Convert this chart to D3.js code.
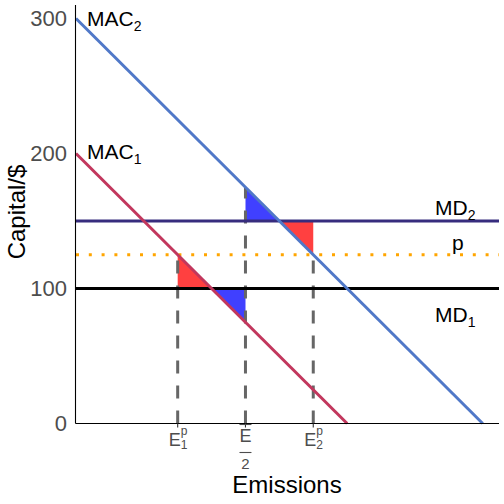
<!DOCTYPE html>
<html><head><meta charset="utf-8">
<script src="https://cdn.jsdelivr.net/npm/d3@7"></script>
<style>body{margin:0;background:#fff}svg{display:block;font-family:"Liberation Sans",Arial,sans-serif}</style>
</head><body>
<svg id="c" width="504" height="504"></svg>
<script>
// ---- data ----
const yTicks = [0, 100, 200, 300];
const macNames = ["MAC1", "MAC2"];
const macIntercepts = [200, 300];          // MAC = intercept - E
const mdNames = ["MD1", "MD2"];
const mdLevels = [100, 150];
const priceLevel = 125;
const xTickValues = [75, 125, 175];
const xTickLabels = ["E1p", "Ebar/2", "E2p"];
const dashTops = [125, 175, 125];
const redTriangles = [
  [[75,125],[75,100],[100,100]],
  [[150,150],[175,150],[175,125]]
];
const blueTriangles = [
  [[100,100],[125,100],[125,75]],
  [[125,175],[125,150],[150,150]]
];

// ---- scales ----
const svg = d3.select("#c");
const x = d3.scaleLinear().domain([0, 312]).range([76, 499]);
const y = d3.scaleLinear().domain([0, 310]).range([423.5, 5]);
const poly = d3.line().x(d => x(d[0])).y(d => y(d[1]));

// fills
svg.selectAll(".red").data(redTriangles).join("path")
  .attr("d", d => poly(d) + "Z").attr("fill", "#ff0000").attr("fill-opacity", 0.75);
svg.selectAll(".blue").data(blueTriangles).join("path")
  .attr("d", d => poly(d) + "Z").attr("fill", "#0000ff").attr("fill-opacity", 0.75);

// dashed verticals
svg.selectAll(".dash").data(xTickValues).join("line")
  .attr("x1", d => x(d)).attr("x2", d => x(d))
  .attr("y1", y(0)).attr("y2", (d, i) => y(dashTops[i]))
  .attr("stroke", "#666").attr("stroke-width", 3).attr("stroke-dasharray", "13,12");

// price line
svg.append("line").attr("x1", x(0)).attr("x2", x(312))
  .attr("y1", y(priceLevel)).attr("y2", y(priceLevel))
  .attr("stroke", "#ffa500").attr("stroke-width", 3).attr("stroke-dasharray", "3,9.8");

// MD lines
const mdColors = ["#000000", "#372c7e"];
svg.selectAll(".md").data(mdLevels).join("line")
  .attr("x1", x(0)).attr("x2", x(312))
  .attr("y1", d => y(d)).attr("y2", d => y(d))
  .attr("stroke", (d, i) => mdColors[i]).attr("stroke-width", 3);

// MAC lines
const macColors = ["#c2375d", "#5078c8"];
svg.selectAll(".mac").data(macIntercepts).join("line")
  .attr("x1", x(0)).attr("y1", d => y(d))
  .attr("x2", d => x(d)).attr("y2", y(0))
  .attr("stroke", (d, i) => macColors[i]).attr("stroke-width", 3);

// axes lines
svg.append("line").attr("x1", 75.5).attr("x2", 75.5).attr("y1", 5).attr("y2", y(0)).attr("stroke", "#000").attr("stroke-width", 1.1);
svg.append("line").attr("x1", 75.5).attr("x2", 499).attr("y1", y(0)).attr("y2", y(0)).attr("stroke", "#000").attr("stroke-width", 1.1);

// y tick labels
svg.selectAll(".yt").data(yTicks).join("text")
  .attr("x", 67).attr("y", d => y(d)).attr("dy", "0.36em")
  .attr("text-anchor", "end").attr("font-size", 22).attr("fill", "#4d4d4d").text(d => d);

// x ticks
svg.selectAll(".xt").data(xTickValues).join("line")
  .attr("x1", d => x(d)).attr("x2", d => x(d)).attr("y1", y(0)).attr("y2", y(0) + 4)
  .attr("stroke", "#333").attr("stroke-width", 1.1);

// x tick labels
xTickValues.forEach((v, i) => {
  const lab = xTickLabels[i];
  const g = svg.append("g").attr("fill", "#4d4d4d");
  if (lab === "Ebar/2") {
    g.append("text").attr("x", x(v)).attr("y", 442).attr("text-anchor", "middle").attr("font-size", 18).text("E");
    g.append("line").attr("x1", x(v) - 6).attr("x2", x(v) + 6).attr("y1", 424.5).attr("y2", 424.5).attr("stroke", "#4d4d4d").attr("stroke-width", 1.1);
    g.append("line").attr("x1", x(v) - 6).attr("x2", x(v) + 6).attr("y1", 452.5).attr("y2", 452.5).attr("stroke", "#4d4d4d").attr("stroke-width", 1.1);
    g.append("text").attr("x", x(v)).attr("y", 469).attr("text-anchor", "middle").attr("font-size", 15).text("2");
  } else {
    const sub = lab.charAt(1);
    g.append("text").attr("x", x(v) - 9).attr("y", 446).attr("font-size", 18).text("E");
    g.append("text").attr("x", x(v) + 3).attr("y", 435).attr("font-size", 12).text("p");
    g.append("text").attr("x", x(v) + 3).attr("y", 449).attr("font-size", 12).text(sub);
  }
});

// axis titles
svg.append("text").attr("x", 287).attr("y", 493).attr("text-anchor", "middle").attr("font-size", 24).attr("fill", "#000").text("Emissions");
svg.append("text").attr("transform", "translate(25," + 212 + ") rotate(-90)").attr("text-anchor", "middle").attr("font-size", 24).attr("fill", "#000").text("Capital/$");

// curve labels
function subLabel(px, py, main, sub) {
  const t = svg.append("text").attr("x", px).attr("y", py).attr("font-size", 21).attr("fill", "#000");
  t.append("tspan").text(main);
  if (sub) t.append("tspan").attr("font-size", 14).attr("dy", 5).text(sub);
}
subLabel(87, 26, "MAC", "2");
subLabel(87, 159, "MAC", "1");
subLabel(435, 215, "MD", "2");
subLabel(435, 322, "MD", "1");
subLabel(452, 250, "p", null);
</script>
</body></html>
